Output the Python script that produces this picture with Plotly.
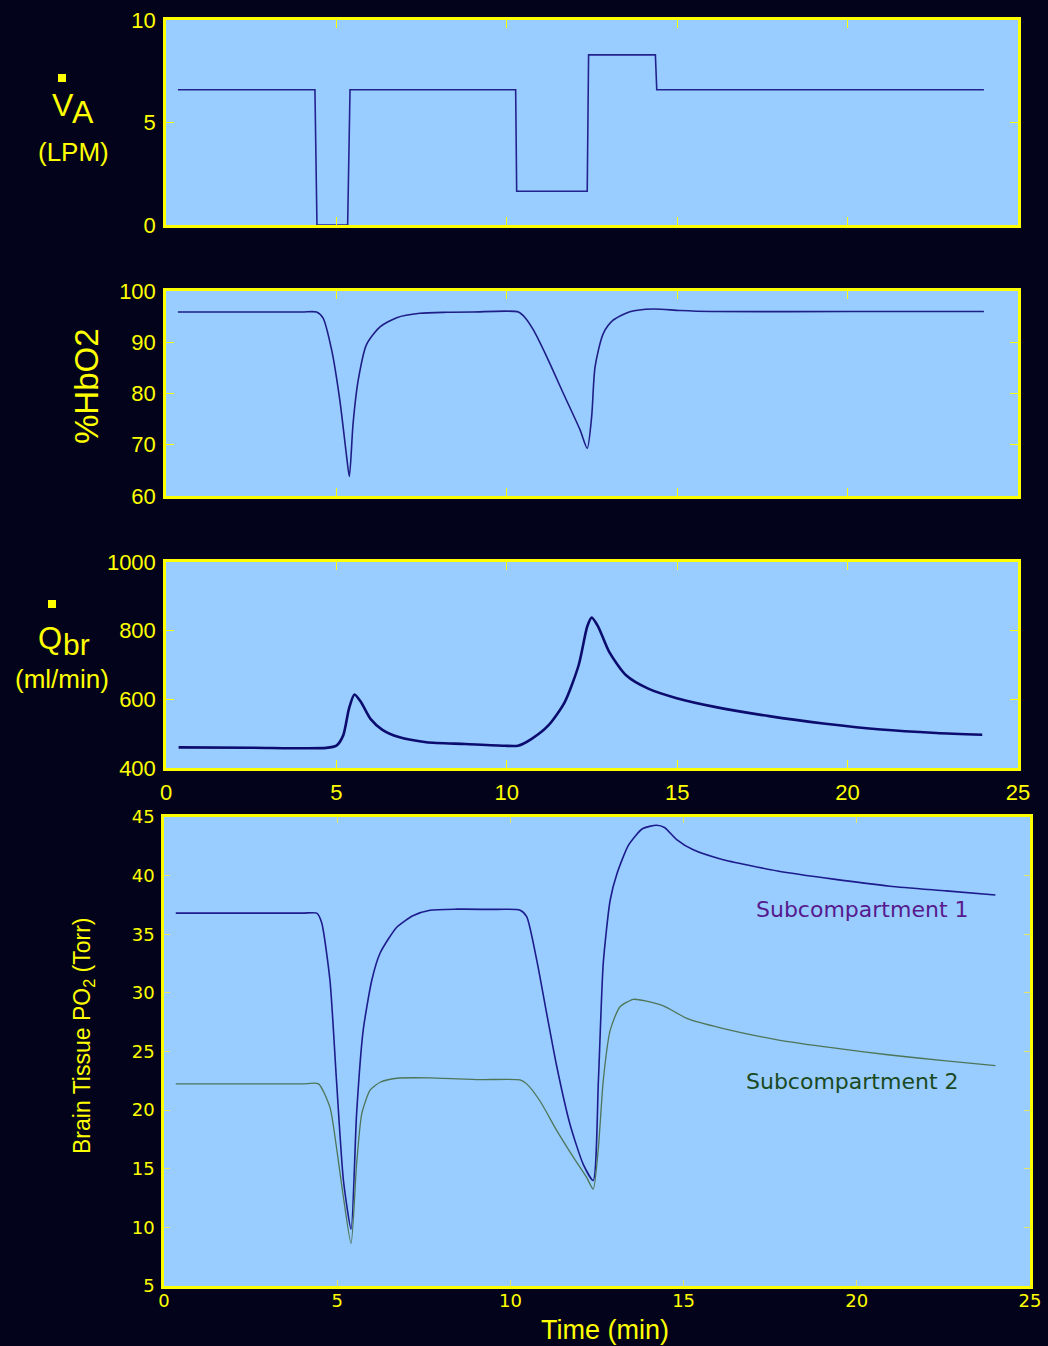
import plotly.graph_objects as go

W, H = 1048, 1346

# ---- data -------------------------------------------------------------
# alveolar ventilation (LPM)
t_va = [0.35, 4.37, 4.43, 5.33, 5.40, 10.26, 10.29, 12.36, 12.40, 14.36, 14.40, 24.0]
va = [6.6, 6.6, 0.0, 0.0, 6.6, 6.6, 1.65, 1.65, 8.3, 8.3, 6.6, 6.6]

# arterial oxyhemoglobin saturation (%)
t_hb = [0.35, 2.5, 4.0, 4.42, 4.61, 4.86, 5.1, 5.3, 5.38, 5.49, 5.64, 5.88, 6.28, 6.77, 7.45,
        8.24, 9.0, 10.34, 10.55, 10.78, 11.17, 11.66, 12.15, 12.36, 12.49, 12.59,
        12.83, 13.12, 13.61, 14.29, 15.08, 16.0, 20.0, 24.0]
hbo2 = [95.9, 95.9, 95.9, 95.9, 94.7, 88.5, 78.7, 67.7, 63.8, 74.2, 82.6, 89.5, 93.0, 94.8, 95.65,
        95.85, 95.9, 95.9, 94.7, 92.4, 87.2, 80.0, 72.9, 69.3, 75.5, 85.2,
        91.7, 94.3, 95.96, 96.5, 96.2, 96.0, 96.0, 96.0]

# brain blood flow (ml/min)
t_q = [0.37, 2.5, 4.7, 5.0, 5.2, 5.37, 5.53, 5.72, 6.0, 6.34, 6.83, 7.64, 8.78, 9.92,
       10.33, 10.73, 11.22, 11.7, 12.11, 12.36, 12.49, 12.68, 13.0, 13.5, 14.15,
       14.96, 16.1, 17.7, 19.35, 20.98, 22.6, 23.95]
qbr = [460, 459, 458.5, 465, 495, 573, 614, 592, 543, 512, 490, 475, 470, 465,
       465, 485, 524, 592, 700, 812, 838, 812, 739, 670, 631,
       604, 578, 551, 529, 512, 502, 497]

# brain tissue PO2 (Torr), subcompartment 1
t_p1 = [0.34, 2.5, 4.0, 4.41, 4.55, 4.79, 4.98, 5.18, 5.40, 5.56, 5.75, 6.0, 6.24, 6.72, 7.2,
        7.68, 8.45, 9.4, 10.28, 10.47, 10.76, 11.05, 11.34, 11.72, 12.1, 12.39,
        12.54, 12.68, 12.88, 13.08, 13.41, 13.81, 14.22, 14.45, 14.79, 15.28,
        16.09, 17.71, 19.33, 20.96, 22.58, 24.0]
po2_1 = [36.8, 36.8, 36.8, 36.8, 36.0, 31.1, 22.5, 14.0, 9.85, 19.7, 26.8, 31.1, 33.4, 35.6, 36.6,
         37.05, 37.14, 37.12, 37.05, 36.5, 32.8, 28.2, 23.7, 18.8, 15.4, 14.0,
         22.5, 32.5, 37.9, 40.2, 42.6, 44.0, 44.3, 44.1, 43.1, 42.2,
         41.4, 40.4, 39.7, 39.1, 38.7, 38.35]

# brain tissue PO2 (Torr), subcompartment 2
t_p2 = [0.34, 2.5, 4.0, 4.46, 4.79, 4.98, 5.18, 5.40, 5.56, 5.71, 5.95, 6.24, 6.72, 7.68, 9.12,
        10.28, 10.47, 10.85, 11.34, 11.82, 12.2, 12.39, 12.54, 12.68, 12.88, 13.16,
        13.55, 13.93, 14.32, 14.55, 15.11, 16.09, 17.71, 19.33, 20.96, 22.58, 24.0]
po2_2 = [22.24, 22.24, 22.24, 22.24, 20.24, 16.8, 12.55, 8.62, 15.4, 19.7, 21.7, 22.38, 22.72,
         22.75, 22.6, 22.58, 22.24, 20.8, 18.25, 15.97, 14.26, 13.26, 16.8, 22.5, 26.8, 28.8,
         29.45, 29.3, 29.0, 28.7, 27.8, 27.0, 26.0, 25.3, 24.7, 24.2, 23.8]

x_ticks = [0, 5, 10, 15, 20, 25]
va_ticks = [0, 5, 10]
hb_ticks = [60, 70, 80, 90, 100]
q_ticks = [400, 600, 800, 1000]
po2_ticks = [5, 10, 15, 20, 25, 30, 35, 40, 45]

# ---- styling ----------------------------------------------------------
BG = "#03031c"
PLOT_BG = "#99ccff"
YELLOW = "#ffff00"
SANS = "Liberation Sans, Arial, sans-serif"
WIDE = "DejaVu Sans, sans-serif"


def px(x, y):
    """pixel position -> paper coordinates"""
    return x / W, 1 - y / H


def dom_x(a, b):
    return [a / W, b / W]


def dom_y(top, bottom):
    return [1 - bottom / H, 1 - top / H]


fig = go.Figure()
fig.add_trace(go.Scatter(x=t_va, y=va, mode="lines", xaxis="x", yaxis="y",
                         line=dict(color="#23238f", width=1.6)))
fig.add_trace(go.Scatter(x=t_hb, y=hbo2, mode="lines", xaxis="x2", yaxis="y2",
                         line=dict(color="#1e1e86", width=1.6, shape="spline", smoothing=0.7)))
fig.add_trace(go.Scatter(x=t_q, y=qbr, mode="lines", xaxis="x3", yaxis="y3",
                         line=dict(color="#0c0c6e", width=2.6, shape="spline", smoothing=0.7)))
fig.add_trace(go.Scatter(x=t_p1, y=po2_1, mode="lines", xaxis="x4", yaxis="y4",
                         line=dict(color="#1c1c8c", width=1.6, shape="spline", smoothing=0.6)))
fig.add_trace(go.Scatter(x=t_p2, y=po2_2, mode="lines", xaxis="x4", yaxis="y4",
                         line=dict(color="#4d7658", width=1.3, shape="spline", smoothing=0.6)))


def axis(domain, rng, ticks, anchor, labels, font, ticklen=8, tickcolor=YELLOW, standoff=3):
    return dict(domain=domain, range=rng, tickvals=ticks, anchor=anchor,
                showgrid=False, zeroline=False, showline=True, linecolor=YELLOW,
                linewidth=2.5, mirror="ticks", ticks="inside", ticklen=ticklen,
                tickwidth=1, tickcolor=tickcolor, showticklabels=labels,
                tickfont=font, ticklabelstandoff=standoff, automargin=False,
                fixedrange=True)


f_std = dict(family=SANS, size=22, color=YELLOW)
f_wide = dict(family=WIDE, size=18, color=YELLOW)

PX1, PX2 = 166, 1018
fig.update_layout(
    width=W, height=H, margin=dict(l=0, r=0, t=0, b=0, pad=0),
    paper_bgcolor=BG, plot_bgcolor=PLOT_BG, showlegend=False,
    xaxis=axis(dom_x(PX1, PX2), [0, 25], x_ticks, "y", False, f_std),
    yaxis=axis(dom_y(20, 225), [0, 10], va_ticks, "x", True, f_std),
    xaxis2=axis(dom_x(PX1, PX2), [0, 25], x_ticks, "y2", False, f_std),
    yaxis2=axis(dom_y(291, 496), [60, 100], hb_ticks, "x2", True, f_std),
    xaxis3=axis(dom_x(PX1, PX2), [0, 25], x_ticks, "y3", True, f_std, standoff=3),
    yaxis3=axis(dom_y(562, 768), [400, 1000], q_ticks, "x3", True, f_std),
    xaxis4=axis(dom_x(164, 1030), [0, 25], x_ticks, "y4", True, f_wide,
                ticklen=6, tickcolor="#e6e66a", standoff=-3),
    yaxis4=axis(dom_y(817, 1286), [5, 45], po2_ticks, "x4", True, f_wide,
                ticklen=6, tickcolor="#e6e66a", standoff=3),
)

annotations = []


def label(text, x, y, size, angle=0, family=SANS, color=YELLOW):
    xp, yp = px(x, y)
    annotations.append(dict(text=text, x=xp, y=yp, xref="paper", yref="paper",
                            xanchor="center", yanchor="middle", showarrow=False,
                            textangle=angle, font=dict(family=family, size=size, color=color)))


# ventilation label: V-dot with subscript A
label("V", 63, 105, 32)
label("A", 83, 112, 32)
label("(LPM)", 73, 152, 26)
# saturation label
label("%HbO2", 86, 386, 33, angle=-90)
# blood flow label: Q-dot with subscript br
label("Q", 50, 638, 31)
label("br", 76, 644, 30)
label("(ml/min)", 62, 679, 26)
# tissue PO2 label and time axis title
label("Brain Tissue PO<sub>2</sub> (Torr)", 83, 1036, 23, angle=-90)
label("Time (min)", 605, 1330, 27)

fig.update_layout(annotations=annotations + [
    dict(text="Subcompartment 1", x=20.15, y=37.14, xref="x4", yref="y4",
         showarrow=False, font=dict(family=WIDE, size=22, color="#561a8e")),
    dict(text="Subcompartment 2", x=19.89, y=22.44, xref="x4", yref="y4",
         showarrow=False, font=dict(family=WIDE, size=22, color="#1a4a22")),
])

# small squares marking the time-derivative dots over V and Q
for (x0, y0, x1, y1) in [(58, 74, 66, 82), (48, 600, 56, 608)]:
    a0, b0 = px(x0, y0)
    a1, b1 = px(x1, y1)
    fig.add_shape(type="rect", xref="paper", yref="paper", x0=a0, y0=b1, x1=a1, y1=b0,
                  fillcolor=YELLOW, line=dict(width=0))

fig.write_html("out.html")
